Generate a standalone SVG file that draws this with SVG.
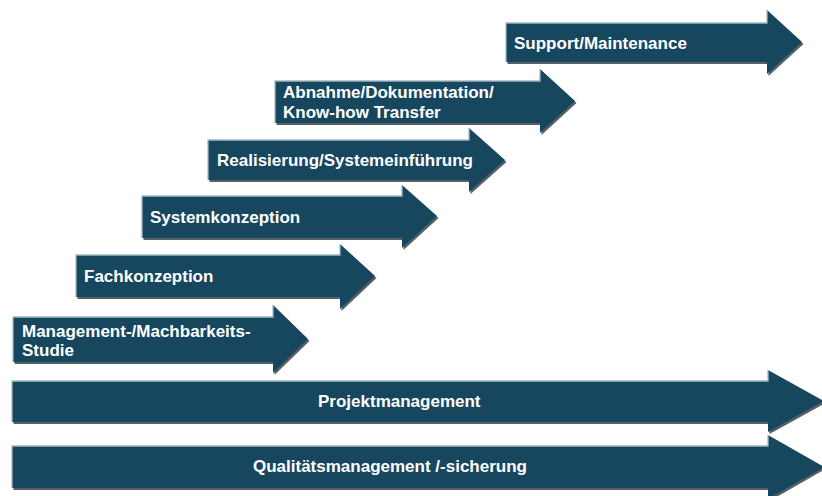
<svg xmlns="http://www.w3.org/2000/svg" width="822" height="496" viewBox="0 0 822 496">
<style>
.sh{fill:#1c2a31;opacity:0.75}
.ar{fill:#17475f}
.hl{fill:none;stroke:#a3b8c3;stroke-width:1.3}
.t{font-family:"Liberation Sans",Arial,sans-serif;font-weight:bold;font-size:17px;fill:#ffffff}
</style>
<rect width="822" height="496" fill="#ffffff"/>
<g id="connectors"/>
<g id="support">
<path class="sh" transform="translate(1.5,2)" d="M506,23 H767 V10 L802,42 L767,74 V62 H506 Z"/>
<path class="ar" d="M506,23 H767 V10 L802,42 L767,74 V62 H506 Z"/>
<polyline class="hl" points="506,62 506,23 767,23 767,10"/>
<text class="t" x="514" y="49">Support/Maintenance</text>
</g>
<g id="abnahme">
<path class="sh" transform="translate(1.5,2)" d="M275,81 H540 V69 L575,101 L540,133 V123 H275 Z"/>
<path class="ar" d="M275,81 H540 V69 L575,101 L540,133 V123 H275 Z"/>
<polyline class="hl" points="275,123 275,81 540,81 540,69"/>
<text class="t" x="283" y="98">Abnahme/Dokumentation/</text>
<text class="t" x="283" y="118">Know-how Transfer</text>
</g>
<g id="realisierung">
<path class="sh" transform="translate(1.5,2)" d="M208,140 H469 V128 L505,160 L469,192 V180 H208 Z"/>
<path class="ar" d="M208,140 H469 V128 L505,160 L469,192 V180 H208 Z"/>
<polyline class="hl" points="208,180 208,140 469,140 469,128"/>
<text class="t" x="217" y="166">Realisierung/Systemeinführung</text>
</g>
<g id="systemkonzeption">
<path class="sh" transform="translate(1.5,2)" d="M142,196 H402 V185 L437,216 L402,248 V238 H142 Z"/>
<path class="ar" d="M142,196 H402 V185 L437,216 L402,248 V238 H142 Z"/>
<polyline class="hl" points="142,238 142,196 402,196 402,185"/>
<text class="t" x="150" y="223">Systemkonzeption</text>
</g>
<g id="fachkonzeption">
<path class="sh" transform="translate(1.5,2)" d="M76,255 H340 V244 L375,276 L340,309 V297 H76 Z"/>
<path class="ar" d="M76,255 H340 V244 L375,276 L340,309 V297 H76 Z"/>
<polyline class="hl" points="76,297 76,255 340,255 340,244"/>
<text class="t" x="84" y="282">Fachkonzeption</text>
</g>
<g id="management">
<path class="sh" transform="translate(1.5,2)" d="M13,317 H273 V305 L308,339 L273,373 V362 H13 Z"/>
<path class="ar" d="M13,317 H273 V305 L308,339 L273,373 V362 H13 Z"/>
<polyline class="hl" points="13,362 13,317 273,317 273,305"/>
<text class="t" x="22" y="337">Management-/Machbarkeits-</text>
<text class="t" x="22" y="356">Studie</text>
</g>
<g id="projektmanagement">
<path class="sh" transform="translate(1.5,2)" d="M12,381 H768 V370 L824,401 L768,432 V422 H12 Z"/>
<path class="ar" d="M12,381 H768 V370 L824,401 L768,432 V422 H12 Z"/>
<polyline class="hl" points="12,422 12,381 768,381 768,370"/>
<text class="t" x="318" y="407">Projektmanagement</text>
</g>
<g id="qualitaet">
<path class="sh" transform="translate(1.5,2)" d="M12,446 H768 V435 L824,467 L768,499 V488 H12 Z"/>
<path class="ar" d="M12,446 H768 V435 L824,467 L768,499 V488 H12 Z"/>
<polyline class="hl" points="12,488 12,446 768,446 768,435"/>
<text class="t" x="253" y="472">Qualitätsmanagement /-sicherung</text>
</g>
</svg>
